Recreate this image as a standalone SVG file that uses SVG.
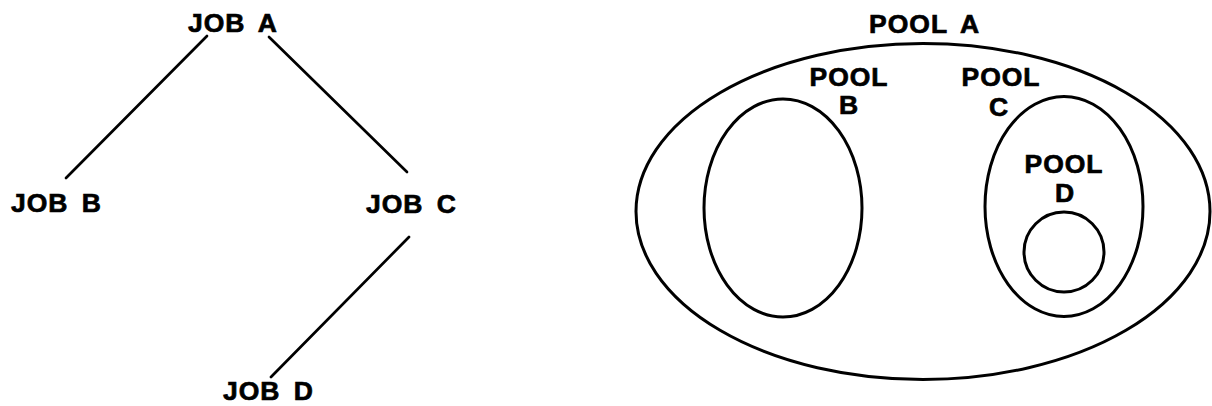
<svg xmlns="http://www.w3.org/2000/svg" width="1212" height="406" viewBox="0 0 1212 406">
<style>
.lbl{font-family:"Liberation Sans",Arial,sans-serif;font-weight:bold;font-size:26.5px;fill:#000;stroke:#000;stroke-width:0.7px;letter-spacing:1px;word-spacing:5px}
.edge{stroke:#000;stroke-width:2.7;fill:none;stroke-linecap:round}
.pool{stroke:#000;stroke-width:3;fill:none}
</style>
<rect width="1212" height="406" fill="#fff"/>
<g id="connectors">
<line class="edge" x1="207" y1="36" x2="66" y2="178"/>
<line class="edge" x1="269" y1="37" x2="407" y2="172"/>
<line class="edge" x1="409" y1="237" x2="271" y2="377"/>
</g>
<g id="jobA"><text class="lbl" x="188" y="32">JOB A</text></g>
<g id="jobB"><text class="lbl" x="11" y="212">JOB B</text></g>
<g id="jobC"><text class="lbl" x="366" y="213">JOB C</text></g>
<g id="jobD"><text class="lbl" x="223" y="400">JOB D</text></g>
<g id="poolA">
<ellipse class="pool" cx="923" cy="211.5" rx="287" ry="168"/>
<text class="lbl" x="869" y="33">POOL A</text>
</g>
<g id="poolB">
<ellipse class="pool" cx="783" cy="208" rx="79" ry="109"/>
<text class="lbl" x="849" y="86" text-anchor="middle">POOL</text>
<text class="lbl" x="849" y="114" text-anchor="middle">B</text>
</g>
<g id="poolC">
<ellipse class="pool" cx="1064" cy="206.5" rx="79" ry="110"/>
<text class="lbl" x="1001" y="86" text-anchor="middle">POOL</text>
<text class="lbl" x="999" y="116" text-anchor="middle">C</text>
</g>
<g id="poolD">
<circle class="pool" cx="1064" cy="252" r="40"/>
<text class="lbl" x="1064" y="173" text-anchor="middle">POOL</text>
<text class="lbl" x="1065" y="202" text-anchor="middle">D</text>
</g>
</svg>
